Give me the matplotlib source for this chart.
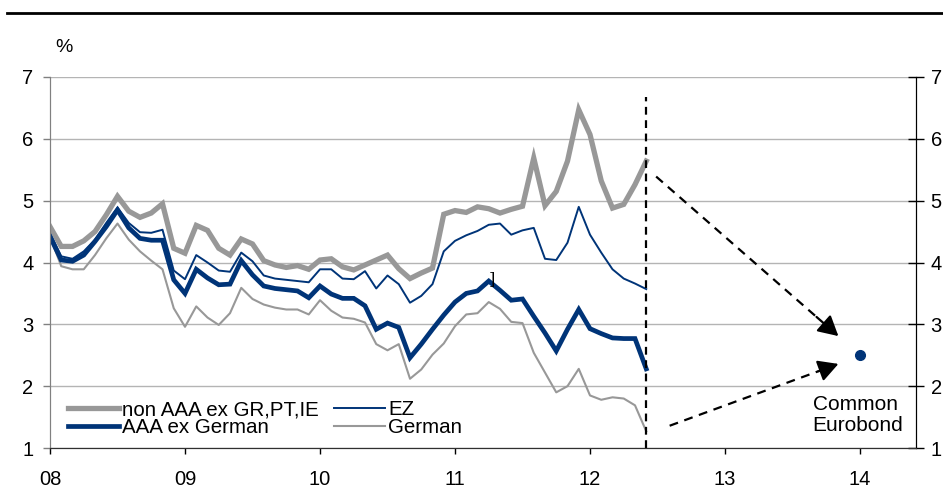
import numpy as np
import matplotlib
matplotlib.use('Agg')
import matplotlib.pyplot as plt
from matplotlib.lines import Line2D

plt.rcParams['font.family'] = ['Liberation Sans', 'DejaVu Sans']

# monthly yields, Jan 2008 - Jun 2012
non_aaa = [4.58, 4.26, 4.26, 4.35, 4.50, 4.77, 5.07, 4.83, 4.73, 4.80, 4.95, 4.23,
           4.15, 4.60, 4.52, 4.23, 4.12, 4.38, 4.30, 4.03, 3.96, 3.92, 3.95, 3.89,
           4.04, 4.06, 3.93, 3.88, 3.96, 4.04, 4.12, 3.90, 3.74, 3.83, 3.91, 4.78,
           4.84, 4.81, 4.90, 4.87, 4.80, 4.86, 4.91, 5.69, 4.92, 5.15, 5.64, 6.47,
           6.07, 5.32, 4.88, 4.94, 5.26, 5.64]
aaa_ex_german = [4.42, 4.04, 4.02, 4.12, 4.34, 4.58, 4.85, 4.56, 4.39, 4.36, 4.36, 3.72,
                 3.50, 3.89, 3.75, 3.64, 3.65, 4.03, 3.80, 3.62, 3.58, 3.56, 3.54, 3.43,
                 3.62, 3.49, 3.42, 3.42, 3.30, 2.92, 3.02, 2.95, 2.46, 2.68, 2.92, 3.15,
                 3.36, 3.50, 3.54, 3.70, 3.55, 3.39, 3.41, 3.13, 2.86, 2.57, 2.92, 3.24,
                 2.93, 2.85, 2.78, 2.77, 2.77, 2.28]
ez = [4.48, 4.10, 4.06, 4.18, 4.37, 4.64, 4.89, 4.64, 4.49, 4.48, 4.53, 3.87,
      3.73, 4.12, 4.00, 3.87, 3.85, 4.16, 4.02, 3.79, 3.74, 3.72, 3.70, 3.68,
      3.89, 3.89, 3.74, 3.73, 3.86, 3.58, 3.79, 3.65, 3.35, 3.46, 3.65, 4.18,
      4.35, 4.44, 4.51, 4.61, 4.63, 4.45, 4.52, 4.56, 4.06, 4.04, 4.32, 4.90,
      4.45, 4.16, 3.89, 3.74, 3.66, 3.57]
german = [4.42, 3.94, 3.89, 3.89, 4.12, 4.39, 4.63, 4.37, 4.18, 4.03, 3.89, 3.26,
          2.96, 3.29, 3.11, 2.99, 3.18, 3.59, 3.41, 3.32, 3.27, 3.24, 3.24, 3.16,
          3.39, 3.22, 3.11, 3.09, 3.03, 2.68, 2.58, 2.68, 2.12, 2.27, 2.51, 2.69,
          2.97, 3.16, 3.18, 3.36, 3.25, 3.04, 3.02, 2.54, 2.22, 1.90, 2.00, 2.28,
          1.85, 1.78, 1.82, 1.80, 1.69, 1.27]

years = [2008, 2009, 2010, 2011, 2012, 2013, 2014]
year_labels = ['08', '09', '10', '11', '12', '13', '14']

eurobond_x = 2014.0
eurobond_y = 2.5
cutoff = 2008 + 53 / 12.0

navy = '#003478'
grey = '#989898'

x = 2008 + np.arange(len(non_aaa)) / 12.0

fig = plt.figure(figsize=(9.43, 5.04), dpi=100)
ax = fig.add_axes([50 / 943, 1 - 448 / 504, 866 / 943, 371 / 504])

ax.set_xlim(2008, 2008 + 866 / 135.0)
ax.set_ylim(1, 7)
ax.set_yticks(range(1, 8))
ax.yaxis.grid(True, color='#b4b4b4', lw=1)
ax.set_axisbelow(True)

l_ger, = ax.plot(x, german, color=grey, lw=1.5)
l_ez, = ax.plot(x, ez, color=navy, lw=1.4)
l_non, = ax.plot(x, non_aaa, color=grey, lw=3.8, solid_joinstyle='miter')
l_aaa, = ax.plot(x, aaa_ex_german, color=navy, lw=3.4, solid_joinstyle='miter')

# forecast part
ax.plot([cutoff, cutoff], [1, 6.68], color='black', lw=1.6, ls=(0, (3.5, 2.5)))
ax.plot([eurobond_x], [eurobond_y], 'o', color=navy, ms=7)

# dashed arrows: dashed shaft + solid head
for (x0, y0), (x1, y1) in [((2012.49, 5.39), (2013.84, 2.81)),
                           ((2012.59, 1.36), (2013.84, 2.36))]:
    xm = x0 + 0.88 * (x1 - x0)
    ym = y0 + 0.88 * (y1 - y0)
    ax.plot([x0, xm], [y0, ym], color='black', lw=1.6, ls=(0, (4, 3)))
    ax.annotate('', xy=(x1, y1), xytext=(xm, ym),
                arrowprops=dict(arrowstyle='-|>,head_length=0.55,head_width=0.3',
                                color='black', lw=1.6, mutation_scale=22,
                                shrinkA=0, shrinkB=0))

ax.text(2013.65, 1.85, 'Common\nEurobond', fontsize=15, va='top', ha='left',
        linespacing=1.12)
ax.text(2011.27, 3.72, ']', fontsize=12, family='DejaVu Serif', ha='center', va='center')

ax.set_xticks(years)
ax.set_xticklabels(year_labels)
ax.tick_params(axis='x', direction='out', length=4, width=1, pad=12, labelsize=14.5)
ax.tick_params(axis='y', direction='out', length=5, width=1, pad=7, labelsize=14.5,
               color='#808080')

ax2 = ax.twinx()
ax2.set_ylim(1, 7)
ax2.set_yticks(range(1, 8))
ax2.tick_params(axis='y', direction='inout', length=11, width=1, pad=5, labelsize=14.5)

for a in (ax, ax2):
    a.spines['top'].set_visible(False)
    a.spines['left'].set_color('#808080')
    a.spines['bottom'].set_color('#303030')
    a.spines['right'].set_color('black')

fig.text(55 / 943, 1 - 47 / 504, '%', fontsize=14, ha='left', va='center')

# rule at the top
fig.add_artist(Line2D([7 / 943, 1], [1 - 13 / 504, 1 - 13 / 504], color='black', lw=2))

leg = ax.legend([l_non, l_aaa, l_ez, l_ger],
                ['non AAA ex GR,PT,IE', 'AAA ex German', 'EZ', 'German'],
                ncol=2, frameon=False, fontsize=14.8, handlelength=2.5,
                handletextpad=0.15, columnspacing=0.7, labelspacing=-0.05,
                borderpad=0, borderaxespad=0, loc='upper left',
                bbox_to_anchor=(68 / 943, 1 - 400 / 504),
                bbox_transform=fig.transFigure)

fig.savefig('out.png', dpi=100)
